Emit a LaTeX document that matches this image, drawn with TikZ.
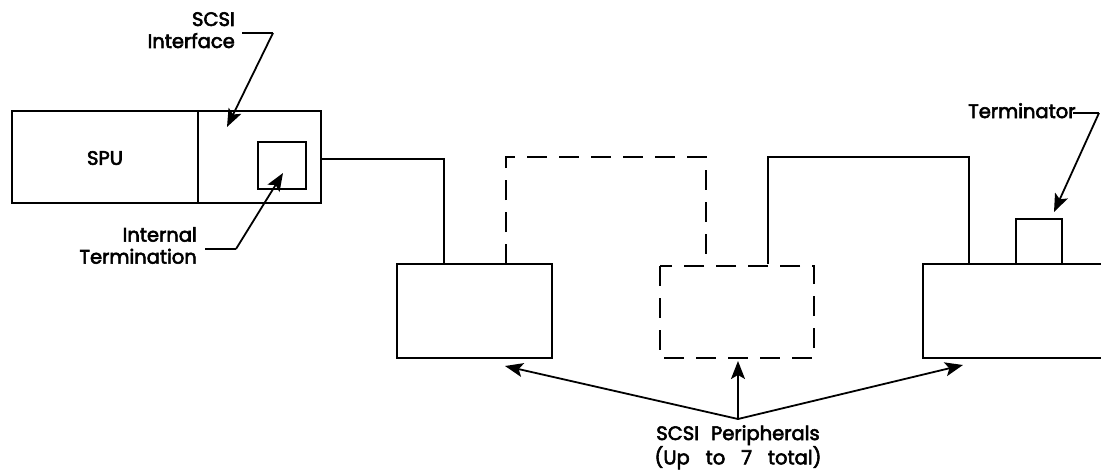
\documentclass[tikz,border=0pt]{standalone}
\usepackage{fontspec}
\setmainfont{Poppins}[FakeBold=3]
\usetikzlibrary{arrows.meta}
\begin{document}
\begin{tikzpicture}[x=1pt,y=-1pt,
  box/.style={draw,line width=1.8pt,line join=miter},
  dbox/.style={draw,line width=1.8pt,dash pattern=on 20pt off 12pt},
  wire/.style={draw,line width=1.4pt},
  dwire/.style={draw,line width=1.6pt,dash pattern=on 20pt off 12pt},
  lead/.style={draw,line width=1.4pt},
  pointer/.style={draw,line width=1.8pt,-{Stealth[length=18pt,width=14pt,inset=4pt]}},
  lbl/.style={font=\fontsize{19.5}{22}\selectfont,inner sep=0pt}]
\useasboundingbox (0,0) rectangle (1101,471);
\clip (0,0) rectangle (1101,471);
% SPU and interface
\path[box] (12,111) rectangle (198,203);
\node[lbl] (spu) at (105,158) {SPU};
\path[box] (198,111) rectangle (321,203);
\coordinate (ifc) at (227,127);
\path[box] (258,142) rectangle (306,189);
\coordinate (term) at (283,173);
% peripherals
\path[box] (397,264) rectangle (552,358);
\path[dbox] (660,266) rectangle (814,358);
\path[box] (923,264) rectangle (1115,358);
\path[box] (1016,264) -- (1016,219) -- (1062,219) -- (1062,264);
% bus wiring
\path[wire] (321,159) -- (444,159) -- (444,264);
\path[dwire] (506,264) -- (506,157) -- (706,157) -- (706,266);
\path[wire] (768,264) -- (768,157) -- (969,157) -- (969,264);
% labels
\node[lbl,align=right,anchor=north east] (lsi) at (235,12) {SCSI\\Interface};
\path[lead] (242,33) -- (273,33);
\path[pointer] (273,33) -- (ifc);
\node[lbl,align=right,anchor=north east] (lit) at (197,227) {Internal\\Termination};
\path[lead] (205,249) -- (236,249);
\path[pointer] (236,249) -- (term);
\node[lbl,anchor=north west] (lt) at (968,103) {Terminator};
\path[lead] (1073,113) -- (1099,113);
\path[pointer] (1099,113) -- (1054,212);
% SCSI peripherals
\coordinate (meet) at (738,419);
\path[pointer] (meet) -- (505,366);
\path[pointer] (meet) -- (738,361);
\path[pointer] (meet) -- (963,365);
\node[lbl,align=center,anchor=north] (lp) at (738,425) {SCSI\hspace{12pt}Peripherals\\(Up\hspace{16pt}to\hspace{16pt}7\hspace{16pt}total)};
\end{tikzpicture}
\end{document}
